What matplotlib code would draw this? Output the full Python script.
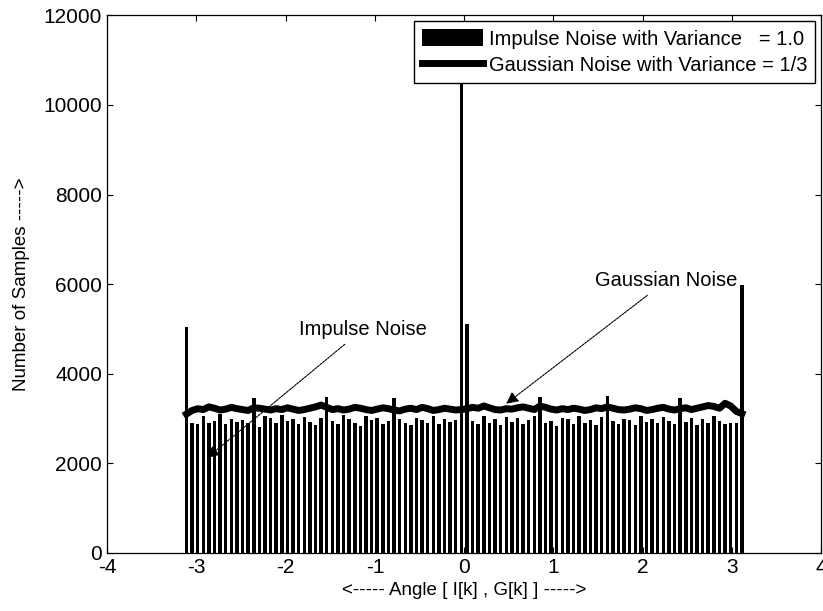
import numpy as np
import matplotlib
matplotlib.use("Agg")
import matplotlib.pyplot as plt

plt.rcParams['font.family'] = ['Liberation Sans', 'DejaVu Sans']
plt.rcParams['axes.unicode_minus'] = False

# histogram of impulse-noise angles, 100 bins over [-pi, pi]
impulse_counts = [5050, 2900, 2880, 3050, 2890, 2950, 3100, 2870, 3000, 2930,
                  2960, 2890, 3450, 2810, 3060, 3020, 2900, 3080, 2950, 2990,
                  2870, 3040, 2930, 2860, 3010, 3480, 2950, 2880, 3070, 2990,
                  2900, 2840, 3050, 2970, 3020, 2880, 2940, 3450, 2980, 2890,
                  2850, 3010, 2960, 2900, 3060, 2870, 3000, 2930, 2960, 11500,
                  5100, 2940, 2870, 3050, 2900, 2990, 2850, 3040, 2920, 3010,
                  2880, 2970, 3060, 3480, 2900, 2950, 2830, 3020, 2990, 2880,
                  3050, 2910, 2960, 2860, 3030, 3500, 2940, 2880, 3000, 2970,
                  2850, 3060, 2920, 2990, 2890, 3040, 2950, 2870, 3450, 2930,
                  3010, 2860, 2980, 2900, 3050, 2940, 2880, 2910, 2890, 5970]

# histogram of gaussian-noise angles (same bins), drawn as a line
gauss_counts = [3100, 3180, 3220, 3200, 3260, 3230, 3190, 3210, 3250, 3220,
                3200, 3180, 3240, 3230, 3210, 3190, 3220, 3200, 3240, 3210,
                3180, 3200, 3230, 3260, 3300, 3250, 3200, 3220, 3190, 3210,
                3250, 3230, 3200, 3180, 3210, 3240, 3220, 3190, 3170, 3210,
                3230, 3200, 3250, 3220, 3180, 3200, 3230, 3210, 3190, 3200,
                3220, 3250, 3230, 3280, 3240, 3200, 3190, 3220, 3210, 3240,
                3260, 3230, 3200, 3280, 3250, 3210, 3190, 3220, 3200, 3230,
                3210, 3180, 3200, 3240, 3220, 3260, 3230, 3200, 3190, 3210,
                3240, 3220, 3180, 3200, 3230, 3250, 3210, 3190, 3220, 3240,
                3200, 3230, 3260, 3290, 3270, 3230, 3340, 3280, 3160, 3110]

n_bins = len(impulse_counts)
edges = np.linspace(-np.pi, np.pi, n_bins + 1)
centers = (edges[:-1] + edges[1:]) / 2
bin_w = edges[1] - edges[0]

fig = plt.figure(figsize=(8.23, 6.11), dpi=100)
ax = fig.add_axes([0.130, 0.095, 0.868, 0.880])

bars = ax.bar(centers, impulse_counts, width=bin_w * 0.62, color='black',
              label='Impulse Noise with Variance   = 1.0')
line, = ax.plot(centers, gauss_counts, color='black', lw=5,
                label='Gaussian Noise with Variance = 1/3')

ax.set_xlim(-4, 4)
ax.set_ylim(0, 12000)
ax.set_xticks(range(-4, 5))
ax.set_yticks(range(0, 12001, 2000))
ax.tick_params(direction='in', length=4, top=True, right=True,
               labelsize=15, width=0.8)
for s in ax.spines.values():
    s.set_linewidth(0.9)

ax.set_xlabel('<----- Angle [ I[k] , G[k] ] ----->', fontsize=13.5, labelpad=4)
ax.set_ylabel('Number of Samples ----->', fontsize=13.5, labelpad=10)

ax.annotate('Gaussian Noise', xy=(0.47, 3330), xytext=(1.47, 6080),
            fontsize=14.5, va='center', ha='left',
            arrowprops=dict(arrowstyle='-|>', color='black', lw=0.8,
                            linestyle=(0, (2, 1)), mutation_scale=18,
                            shrinkA=3, shrinkB=0))
ax.annotate('Impulse Noise', xy=(-2.88, 2120), xytext=(-1.85, 4990),
            fontsize=14.5, va='center', ha='left',
            arrowprops=dict(arrowstyle='-|>', color='black', lw=0.8,
                            linestyle=(0, (2, 1)), mutation_scale=18,
                            shrinkA=3, shrinkB=0))

leg = ax.legend([bars, line], [bars.get_label(), line.get_label()],
                loc='upper right', fontsize=14.5, frameon=True, fancybox=False,
                edgecolor='black', framealpha=1, borderaxespad=0.3,
                handlelength=3.0, handleheight=0.9, handletextpad=0.3,
                labelspacing=0.35, borderpad=0.4)
leg.get_frame().set_linewidth(1.0)

fig.savefig('out.png', dpi=100)
